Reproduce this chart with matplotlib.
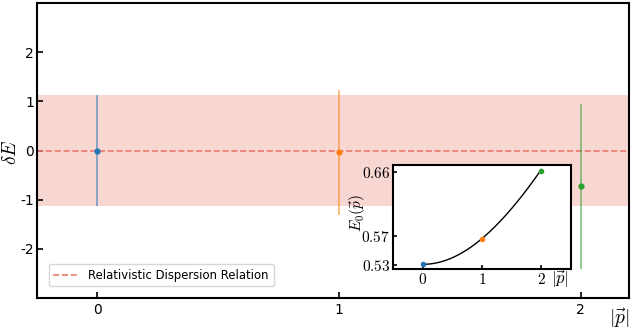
import matplotlib

matplotlib.use("Agg")

import numpy as np
import matplotlib.pyplot as plt

plt.rcParams["mathtext.fontset"] = "cm"
plt.rcParams["font.size"] = 10

# data
momenta = [0, 1, 2]
dE = [0.0, -0.04, -0.73]
dE_err = [1.13, 1.27, 1.67]
band_halfwidth = 1.13
E0 = [0.531, 0.567, 0.661]
inset_ticks = [0.53, 0.57, 0.66]
colors = ["C0", "C1", "C2"]

# dispersion curve E(p) = sqrt(m^2 + k^2 p^2), fixed by the first two points
m2 = E0[0] ** 2
k2 = E0[1] ** 2 - m2
p_curve = np.linspace(0, 2, 200)
E_curve = np.sqrt(m2 + k2 * p_curve ** 2)

fig = plt.figure(figsize=(6.34, 3.29), dpi=100)
ax = fig.add_axes([37 / 634, 31 / 329, 592 / 634, 295 / 329])

ax.axhspan(-band_halfwidth, band_halfwidth, color="#f8d7d3", lw=0)
ax.axhline(0, color="#ec7a70", ls="--", lw=1.2,
           label="Relativistic Dispersion Relation")
for p, y, e, c in zip(momenta, dE, dE_err, colors):
    ax.errorbar(p, y, yerr=e, color=c, fmt="o", ms=3.5, elinewidth=1.2,
                ecolor=matplotlib.colors.to_rgba(c, 0.6), capsize=0)

ax.set_xlim(-0.25, 2.2)
ax.set_ylim(-3, 3)
ax.set_xticks([0, 1, 2])
ax.set_yticks([-2, -1, 0, 1, 2])
ax.set_yticklabels(["-2", "-1", "0", "1", "2"])
ax.tick_params(direction="in", length=4, width=1.2, labelsize=10)
ax.tick_params(axis="y", pad=2)
for s in ax.spines.values():
    s.set_linewidth(1.5)
fig.text(10 / 634, 1 - 152 / 329, r"$\delta E$", fontsize=14, rotation=90,
         ha="center", va="center")
ax.text(1.0, -0.03, r"$|\vec{p}|$", transform=ax.transAxes, fontsize=14,
        ha="right", va="top")
ax.legend(loc="lower left", bbox_to_anchor=(0.01, 0.02), fontsize=8.4,
          handlelength=2.2, framealpha=0.8)

# inset
ins = fig.add_axes([393 / 634, 60 / 329, 178 / 634, 104 / 329])
ins.plot(p_curve, E_curve, color="black", lw=1)
for p, y, c in zip(momenta, E0, colors):
    ins.plot(p, y, "o", color=c, ms=3)
ins.set_xlim(-0.5, 2.5)
ins.set_ylim(0.5245, 0.6697)
ins.set_xticks([0, 1, 2])
ins.set_xticklabels([r"$0$", r"$1$", r"$2$"])
ins.set_yticks(inset_ticks)
ins.set_yticklabels([r"$%.2f$" % t for t in inset_ticks])
ins.tick_params(direction="in", length=3, width=1.2, labelsize=11, pad=2)
for s in ins.spines.values():
    s.set_linewidth(1.5)
ins.text(-0.2, 0.54, r"$E_0(\vec{p})$", transform=ins.transAxes, fontsize=11,
         rotation=90, ha="center", va="center")
ins.text(0.89, -0.1, r"$|\vec{p}|$", transform=ins.transAxes, fontsize=12,
         ha="left", va="center")

fig.savefig("out.png", dpi=100)
